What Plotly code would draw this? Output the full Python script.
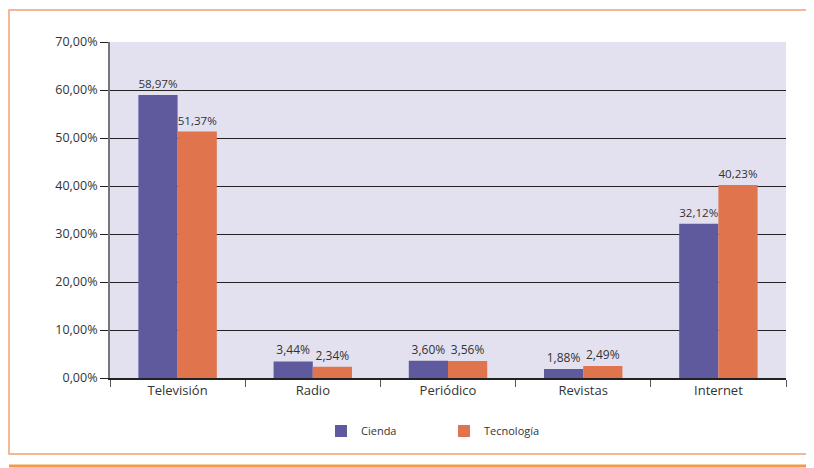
import plotly.graph_objects as go

categories = ["Televisión", "Radio", "Periódico", "Revistas", "Internet"]
ciencia = [58.97, 3.44, 3.60, 1.88, 32.12]
tecnologia = [51.37, 2.34, 3.56, 2.49, 40.23]
series_names = ["Cienda", "Tecnología"]
y_ticks = [0, 10, 20, 30, 40, 50, 60, 70]
y_tick_labels = ["0,00%", "10,00%", "20,00%", "30,00%", "40,00%", "50,00%", "60,00%", "70,00%"]

def fmt(v):
    return f"{v:.2f}".replace(".", ",") + "%"

W, H = 814, 468
OFF = 8  # page body margin offset
L, R, T, B = 110 - OFF, 28 + OFF, 42 - OFF, 90 + OFF
pw, ph = W - L - R, H - T - B

def px_x(px):
    return (px - OFF - L) / pw

def px_y(py):
    return (H - B - (py - OFF)) / ph

font = "Open Sans, DejaVu Sans, sans-serif"

fig = go.Figure()
fig.add_bar(x=categories, y=ciencia, name=series_names[0], marker_color="#5F5A9E",
            marker_line_width=0, text=[fmt(v) for v in ciencia], textposition="outside",
            textfont=dict(size=12, color="#333333", family=font), cliponaxis=False)
fig.add_bar(x=categories, y=tecnologia, name=series_names[1], marker_color="#E0744C",
            marker_line_width=0, text=[fmt(v) for v in tecnologia], textposition="outside",
            textfont=dict(size=12, color="#333333", family=font), cliponaxis=False)

fig.update_layout(
    width=W, height=H,
    margin=dict(l=L, r=R, t=T, b=B),
    paper_bgcolor="white",
    plot_bgcolor="#E3E1EF",
    barmode="group",
    bargap=0.42,
    bargroupgap=0,
    font=dict(family=font, size=12, color="#333333"),
    showlegend=True,
    legend=dict(orientation="h", x=px_x(321), y=px_y(431), xanchor="left", yanchor="middle",
                font=dict(size=11, color="#333333"), entrywidth=78, itemwidth=30,
                bgcolor="rgba(0,0,0,0)"),
)
fig.update_xaxes(
    showgrid=False, showline=True, linecolor="#222222", linewidth=1.5,
    ticks="outside", tickson="boundaries", ticklen=7, tickcolor="#555555",
    tickfont=dict(size=13, color="#333333", family=font),
)
fig.update_yaxes(
    range=[0, 70], tickvals=y_ticks, ticktext=y_tick_labels,
    showgrid=True, gridcolor="#222222", gridwidth=1,
    showline=True, linecolor="#777777", linewidth=2,
    ticks="outside", ticklen=8, tickcolor="#222222",
    tickfont=dict(size=12.5, color="#333333", family=font),
    zeroline=False,
)

shapes = [
    dict(type="rect", xref="paper", yref="paper",
         x0=px_x(9), x1=px_x(830), y0=px_y(454), y1=px_y(10),
         line=dict(color="#F2A07A", width=1.5), fillcolor="rgba(0,0,0,0)", layer="below"),
    dict(type="line", xref="paper", yref="paper",
         x0=px_x(9), x1=px_x(830), y0=px_y(466), y1=px_y(466),
         line=dict(color="#F29A48", width=3)),
]
fig.update_layout(shapes=shapes)

fig.write_html("out.html")
